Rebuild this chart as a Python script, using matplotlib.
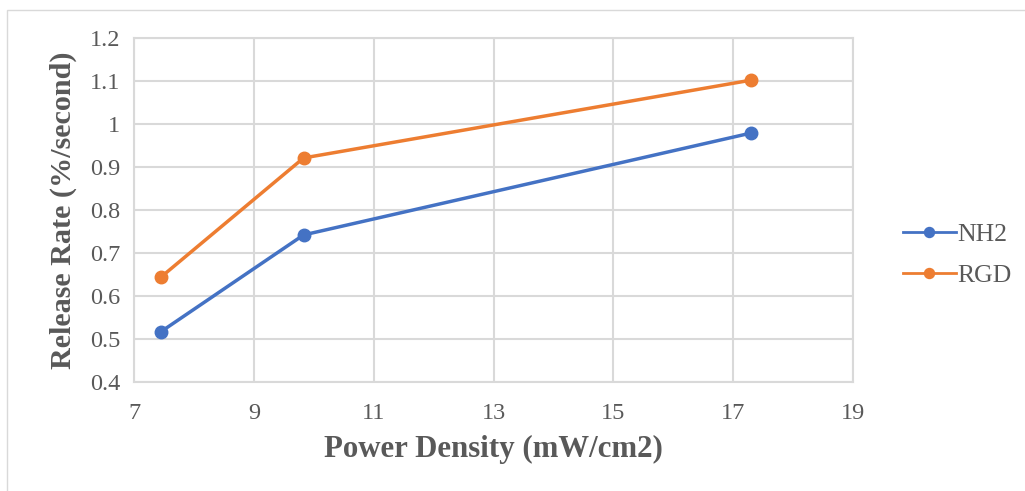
import matplotlib
matplotlib.use("Agg")
import matplotlib.pyplot as plt
from matplotlib.patches import Rectangle

power_density = [7.45, 9.83, 17.3]
nh2 = [0.517, 0.742, 0.979]
rgd = [0.644, 0.921, 1.102]
x_ticks = [7, 9, 11, 13, 15, 17, 19]
y_ticks = [0.4, 0.5, 0.6, 0.7, 0.8, 0.9, 1.0, 1.1, 1.2]
y_tick_labels = ["0.4", "0.5", "0.6", "0.7", "0.8", "0.9", "1", "1.1", "1.2"]

plt.rcParams['font.family'] = ['Liberation Serif', 'DejaVu Serif']
gray = '#595959'

fig = plt.figure(figsize=(10.25, 4.91), dpi=100)
W, H = 1025, 491
fig.patches.append(Rectangle((7 / W, -0.1), 1.2, 1 - 10 / H + 0.1, transform=fig.transFigure,
                             facecolor='none', edgecolor='#d9d9d9', linewidth=1.0, zorder=0))

left, right, top, bottom = 134, 853, 38, 382
ax = fig.add_axes([left / W, 1 - bottom / H, (right - left) / W, (bottom - top) / H])
ax.set_facecolor('none')

ax.plot(power_density, nh2, color='#4472C4', linewidth=2.5, marker='o', markersize=9, label='NH2', zorder=3)
ax.plot(power_density, rgd, color='#ED7D31', linewidth=2.5, marker='o', markersize=9, label='RGD', zorder=3)

ax.set_xlim(7, 19)
ax.set_ylim(0.4, 1.2)
ax.set_xticks(x_ticks)
ax.set_yticks(y_ticks)
ax.set_yticklabels(y_tick_labels)
ax.grid(True, color='#d9d9d9', linewidth=1.5, zorder=0)
ax.set_axisbelow(True)
for s in ax.spines.values():
    s.set_color('#d9d9d9')
    s.set_linewidth(1.5)
ax.tick_params(axis='x', length=0, labelsize=17.5, colors=gray, pad=15)
ax.tick_params(axis='y', length=0, labelsize=17.5, colors=gray, pad=10)

ax.set_xlabel('Power Density (mW/cm2)', fontsize=22.2, fontweight='bold', color=gray, labelpad=8)
ax.set_ylabel('Release Rate (%/second)', fontsize=21.7, fontweight='bold', color=gray, labelpad=9)

leg = fig.legend(handles=ax.get_lines(), loc='center left', bbox_to_anchor=(903 / W, 1 - 255 / H),
                 frameon=False, fontsize=18.5, borderpad=0, borderaxespad=0,
                 handlelength=2.06, handletextpad=0.05, labelspacing=0.7, labelcolor=gray,
                 markerscale=0.8)
for line in leg.get_lines():
    line.set_linewidth(2)

fig.savefig('out.png', dpi=100)
